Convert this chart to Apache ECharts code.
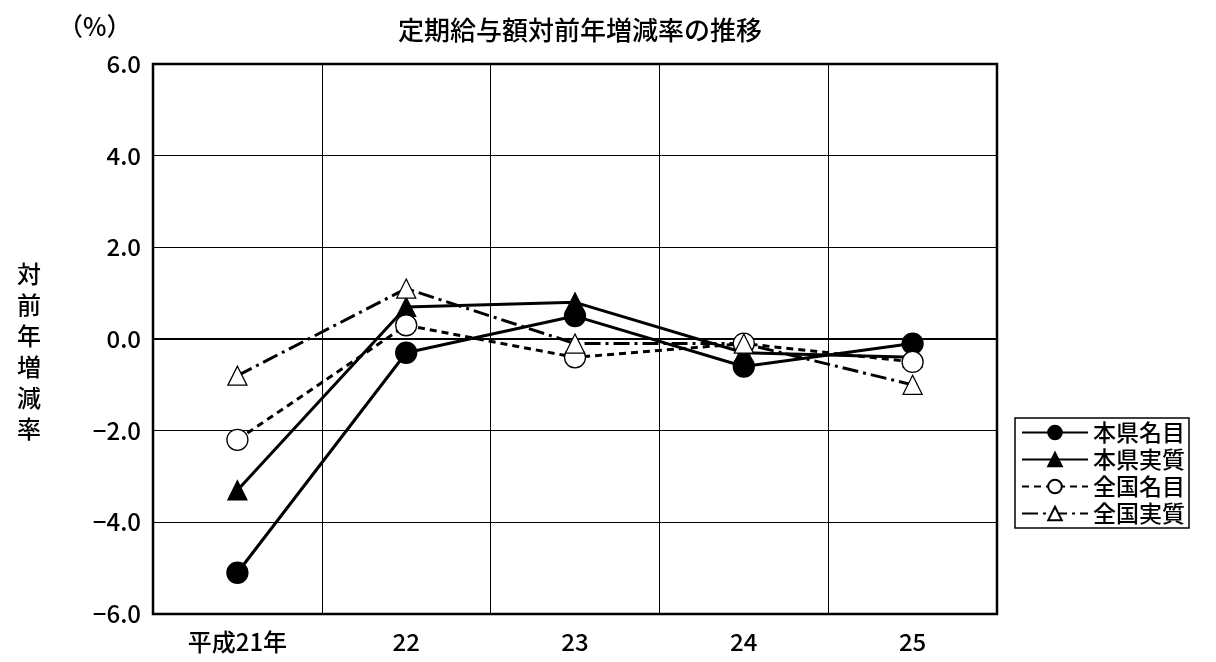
<!DOCTYPE html>
<html><head><meta charset="utf-8">
<script src="https://cdn.jsdelivr.net/npm/echarts@6/dist/echarts.min.js"></script>
<style>body{margin:0;background:#fff}#main{width:1216px;height:662px}</style>
</head><body><div id="main"></div>
<script>
var categories = ['平成21年', '22', '23', '24', '25'];
var kenMeimoku = [-5.1, -0.3, 0.5, -0.6, -0.1];
var kenJisshitsu = [-3.3, 0.7, 0.8, -0.3, -0.4];
var zenMeimoku = [-2.2, 0.3, -0.4, -0.1, -0.5];
var zenJisshitsu = [-0.8, 1.1, -0.1, -0.1, -1.0];

var font = '"Noto Sans CJK JP", sans-serif';
var chart = echarts.init(document.getElementById('main'));

function line(name, data, symbol, filled, dash) {
    return {
        name: name, type: 'line', data: data,
        symbol: symbol, symbolSize: symbol === 'circle' ? 21 : 19,
        lineStyle: {color: '#000', width: 3, type: dash},
        itemStyle: {color: filled ? '#000' : '#fff', borderColor: '#000', borderWidth: 1.3},
        z: 3
    };
}

chart.setOption({
    animation: false,
    textStyle: {fontFamily: font},
    title: {
        text: '定期給与額対前年増減率の推移', left: 575, top: 12, textAlign: 'center',
        textStyle: {fontSize: 26, fontWeight: 500, color: '#000', fontFamily: font}
    },
    grid: {left: 153, right: 219, top: 64, bottom: 48},
    legend: {
        orient: 'vertical', left: 1015, top: 418, itemGap: 4, itemWidth: 66, itemHeight: 17,
        padding: [3, 4, 3, 6], borderColor: '#000', borderWidth: 1.5,
        textStyle: {fontSize: 23, fontWeight: 500, color: '#000', fontFamily: font}
    },
    xAxis: {
        type: 'category', data: categories, boundaryGap: true,
        axisLine: {lineStyle: {color: '#000', width: 2}},
        axisTick: {show: false},
        axisLabel: {color: '#000', fontSize: 24, fontWeight: 500, margin: 16, fontFamily: font},
        splitLine: {show: true, lineStyle: {color: '#000', width: 1}}
    },
    yAxis: {
        type: 'value', min: -6, max: 6, interval: 2,
        axisLine: {show: true, lineStyle: {color: '#000', width: 2}},
        axisTick: {show: false},
        axisLabel: {color: '#000', fontSize: 24, fontWeight: 500, margin: 12, fontFamily: font,
            formatter: function (v) { return v.toFixed(1).replace('-', '−'); }},
        splitLine: {show: true, lineStyle: {color: '#000', width: 1}}
    },
    graphic: [
        {type: 'rect', shape: {x: 153, y: 64, width: 844, height: 550},
            style: {fill: 'none', stroke: '#000', lineWidth: 2.5}, z: 10, silent: true},
        {type: 'text', left: 58, top: 14, style: {text: '（%）', font: '500 25px ' + font, fill: '#000'}},
        {type: 'text', left: 17, top: 258, style: {text: '対\n前\n年\n増\n減\n率', font: '500 24px ' + font, fill: '#000', lineHeight: 31}}
    ],
    series: [
        line('本県名目', kenMeimoku, 'circle', true, 'solid'),
        line('本県実質', kenJisshitsu, 'triangle', true, 'solid'),
        line('全国名目', zenMeimoku, 'circle', false, [7, 5]),
        line('全国実質', zenJisshitsu, 'triangle', false, [16, 5, 3, 5])
    ]
});
</script></body></html>
